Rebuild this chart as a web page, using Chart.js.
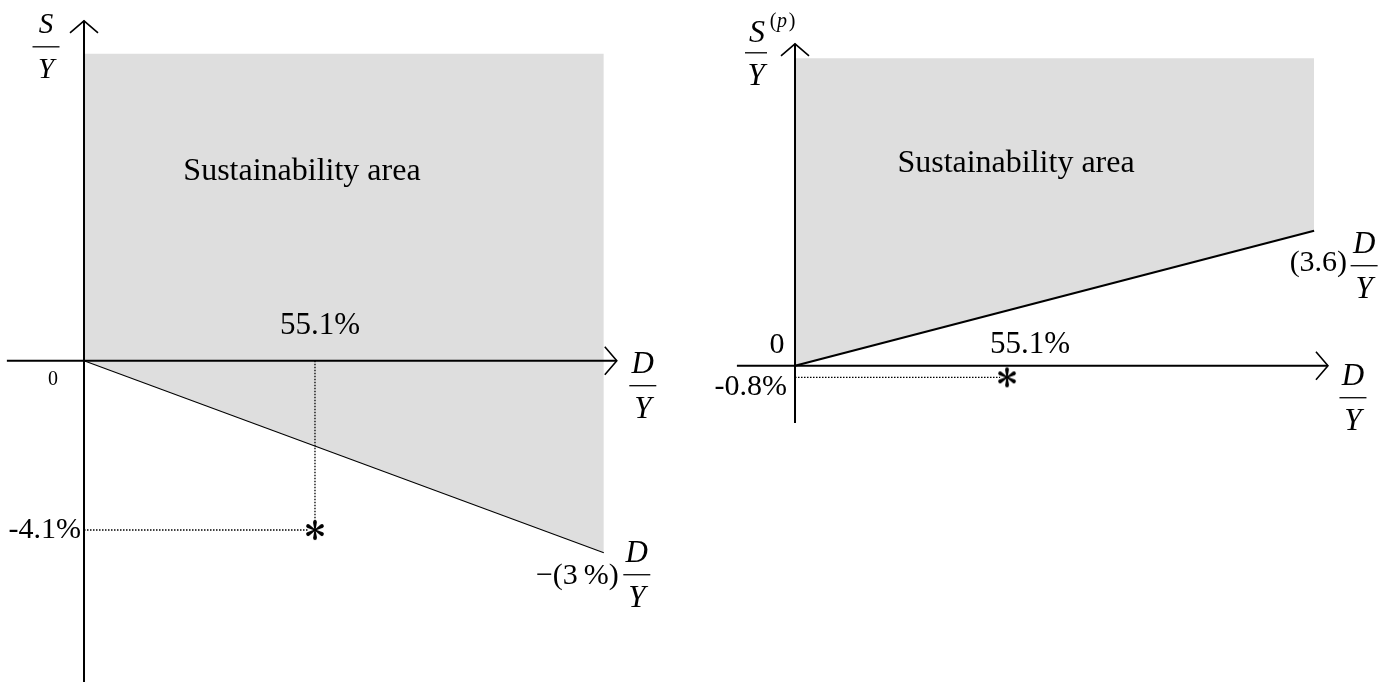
<!DOCTYPE html>
<html>
<head>
<meta charset="utf-8">
<script src="https://cdn.jsdelivr.net/npm/chart.js@4.4.1/dist/chart.umd.min.js"></script>
<style>
  body { margin: 0; background: #fff; }
  #wrap { position: relative; width: 1398px; height: 682px; }
  canvas { position: absolute; top: 0; }
</style>
</head>
<body>
<div id="wrap">
  <canvas id="leftChart" width="699" height="682" style="left:0"></canvas>
  <canvas id="rightChart" width="699" height="682" style="left:699px"></canvas>
</div>
<script>
// left panel: S/Y against D/Y (in %)
const leftBoundX = [0, 124];
const leftBoundY = [0, -4.65];
const leftTopY = 7.43;
const leftPoint = [55.1, -4.1];
const leftAxisX = [-18.4, 127.1];
const leftAxisY = [-7.8, 8.23];

// right panel: S(p)/Y against D/Y (in %)
const rightBoundX = [0, 134.9];
const rightBoundY = [0, 9.31];
const rightTopY = 21.2;
const rightPoint = [55.1, -0.8];
const rightAxisX = [-15.1, 138.5];
const rightAxisY = [-3.95, 22.2];

const areaLabel = 'Sustainability area';
const pointLabels = ['55.1%', '-4.1%', '-0.8%'];
const slopeLabels = ['\u2212(3\u2009%)', '(3.6)'];

const SERIF = '"Liberation Serif", "Times New Roman", serif';
const SHADE = '#dedede';

// asterisk marker used as point style
function makeStar() {
    const c = document.createElement('canvas');
    c.width = 24; c.height = 24;
    const g = c.getContext('2d');
    g.translate(12, 12);
    g.fillStyle = '#fff';
    g.beginPath(); g.arc(0, 0, 7, 0, Math.PI * 2); g.fill();
    g.fillStyle = '#000';
    for (let k = 0; k < 6; k++) {
        g.save();
        g.rotate(k * Math.PI / 3);
        g.beginPath();
        g.moveTo(-0.6, 0);
        g.lineTo(-1.9, -7.2);
        g.arc(0, -8, 1.9, Math.PI, 0, false);
        g.lineTo(0.6, 0);
        g.closePath();
        g.fill();
        g.restore();
    }
    return c;
}
const starImg = makeStar();

function pix(chart, x, y) {
    return [chart.scales.x.getPixelForValue(x), chart.scales.y.getPixelForValue(y)];
}

function drawAxes(ctx, chart, ax, ay) {
    const [x0, y0] = pix(chart, 0, 0);
    const xa = chart.scales.x.getPixelForValue(ax[0]);
    const xb = chart.scales.x.getPixelForValue(ax[1]);
    const ya = chart.scales.y.getPixelForValue(ay[0]);
    const yb = chart.scales.y.getPixelForValue(ay[1]);
    ctx.save();
    ctx.strokeStyle = '#000';
    ctx.lineWidth = 2;
    ctx.beginPath();
    ctx.moveTo(xa, y0); ctx.lineTo(xb, y0);
    ctx.moveTo(x0, ya); ctx.lineTo(x0, yb);
    ctx.stroke();
    ctx.lineWidth = 1.6;
    ctx.beginPath();
    ctx.moveTo(xb - 12, y0 - 14); ctx.lineTo(xb, y0); ctx.lineTo(xb - 12, y0 + 14);
    ctx.moveTo(x0 - 14, yb + 12); ctx.lineTo(x0, yb); ctx.lineTo(x0 + 14, yb + 12);
    ctx.stroke();
    ctx.restore();
    return { x0, y0, xb, yb };
}

function text(ctx, s, x, y, size, align, italic) {
    ctx.font = (italic ? 'italic ' : '') + size + 'px ' + SERIF;
    ctx.textAlign = align || 'center';
    ctx.textBaseline = 'middle';
    ctx.fillStyle = '#000';
    ctx.fillText(s, x, y);
}

function frac(ctx, cx, yTop, num, den, size) {
    text(ctx, num, cx, yTop, size, 'center', true);
    ctx.save();
    ctx.strokeStyle = '#000';
    ctx.lineWidth = 1.3;
    ctx.beginPath();
    ctx.moveTo(cx - 13.5, yTop + 21); ctx.lineTo(cx + 13.5, yTop + 21);
    ctx.stroke();
    ctx.restore();
    text(ctx, den, cx, yTop + 45, size, 'center', true);
}

const leftDecor = {
    id: 'leftDecor',
    afterDatasetsDraw(chart) {
        const ctx = chart.ctx;
        const a = drawAxes(ctx, chart, leftAxisX, leftAxisY);
        const [tx, ty] = pix(chart, leftBoundX[0], leftTopY);
        text(ctx, areaLabel, tx + 218, ty + 118, 32);
        const [px, py] = pix(chart, leftPoint[0], leftPoint[1]);
        text(ctx, pointLabels[0], px + 5, a.y0 - 35, 31);
        text(ctx, pointLabels[1], a.x0 - 3, py, 30, 'right');
        text(ctx, '0', a.x0 - 31, a.y0 + 19, 20);
        frac(ctx, a.xb + 26, a.y0 + 4, 'D', 'Y', 31);
        frac(ctx, a.x0 - 38, a.yb + 5, 'S', 'Y', 29);
        const [ex, ey] = pix(chart, leftBoundX[1], leftBoundY[1]);
        text(ctx, slopeLabels[0], ex + 15, ey + 23, 30, 'right');
        frac(ctx, ex + 33, ey + 1, 'D', 'Y', 31);
    }
};

const rightDecor = {
    id: 'rightDecor',
    afterDatasetsDraw(chart) {
        const ctx = chart.ctx;
        const a = drawAxes(ctx, chart, rightAxisX, rightAxisY);
        const [tx, ty] = pix(chart, rightBoundX[0], rightTopY);
        text(ctx, areaLabel, tx + 221, ty + 105, 32);
        const [px, py] = pix(chart, rightPoint[0], rightPoint[1]);
        text(ctx, pointLabels[0], px + 23, a.y0 - 21, 31);
        text(ctx, pointLabels[2], a.x0 - 8, py + 10, 30, 'right');
        text(ctx, '0', a.x0 - 18, a.y0 - 21, 30);
        frac(ctx, a.xb + 25, a.y0 + 11, 'D', 'Y', 31);
        // S^(p) / Y
        text(ctx, 'S', a.x0 - 38, a.yb - 10, 32, 'center', true);
        text(ctx, '(', a.x0 - 22, a.yb - 22, 20, 'center');
        text(ctx, 'p', a.x0 - 13, a.yb - 22, 20, 'center', true);
        text(ctx, ')', a.x0 - 3, a.yb - 22, 20, 'center');
        ctx.save();
        ctx.lineWidth = 1.3;
        ctx.beginPath();
        ctx.moveTo(a.x0 - 50, a.yb + 9); ctx.lineTo(a.x0 - 28, a.yb + 9);
        ctx.stroke();
        ctx.restore();
        text(ctx, 'Y', a.x0 - 39, a.yb + 33, 31, 'center', true);
        const [ex, ey] = pix(chart, rightBoundX[1], rightBoundY[1]);
        text(ctx, slopeLabels[1], ex + 33, ey + 32, 30, 'right');
        frac(ctx, ex + 50, ey + 14, 'D', 'Y', 31);
    }
};

function panel(canvasId, cfg) {
    const pts = (xs, ys) => xs.map((x, i) => ({ x: x, y: ys[i] }));
    const line = {
        pointRadius: 0, fill: false, tension: 0,
        borderColor: '#000'
    };
    const dotted = Object.assign({}, line, { borderWidth: 1.3, borderDash: [1.5, 1.5], order: 0 });
    const datasets = [
        // shaded area, drawn first (highest order)
        Object.assign({}, line, {
            data: pts(cfg.boundX, [cfg.topY, cfg.topY]),
            borderWidth: 0, borderColor: 'rgba(0,0,0,0)',
            backgroundColor: SHADE, fill: '+1', order: 5
        }),
        Object.assign({}, line, { data: pts(cfg.boundX, cfg.boundY), borderWidth: cfg.lineWidth, order: -1 })
    ];
    cfg.dots.forEach(d => datasets.push(Object.assign({}, dotted, { data: d })));
    datasets.push({
        data: [{ x: cfg.point[0], y: cfg.point[1] }],
        pointStyle: starImg, pointRadius: 12, showLine: false, order: -2
    });

    return new Chart(document.getElementById(canvasId).getContext('2d'), {
        type: 'line',
        data: { datasets: datasets },
        options: {
            responsive: false,
            animation: false,
            events: [],
            layout: { autoPadding: false, padding: 0 },
            plugins: { legend: { display: false }, tooltip: { enabled: false } },
            scales: {
                x: { type: 'linear', display: false, min: cfg.xr[0], max: cfg.xr[1] },
                y: { type: 'linear', display: false, min: cfg.yr[0], max: cfg.yr[1] }
            }
        },
        plugins: [cfg.decor]
    });
}

panel('leftChart', {
    boundX: leftBoundX, boundY: leftBoundY, topY: leftTopY, point: leftPoint,
    lineWidth: 1.1,
    dots: [
        [{ x: leftPoint[0], y: 0 }, { x: leftPoint[0], y: leftPoint[1] }],
        [{ x: 0, y: leftPoint[1] }, { x: leftPoint[0], y: leftPoint[1] }]
    ],
    xr: [-20.04, 146.71], yr: [-7.78, 8.734],
    decor: leftDecor
});

panel('rightChart', {
    boundX: rightBoundX, boundY: rightBoundY, topY: rightTopY, point: rightPoint,
    lineWidth: 2.2,
    dots: [
        [{ x: 0, y: rightPoint[1] }, { x: rightPoint[0], y: rightPoint[1] }]
    ],
    xr: [-24.95, 156.7], yr: [-21.81, 25.22],
    decor: rightDecor
});
</script>
</body>
</html>
